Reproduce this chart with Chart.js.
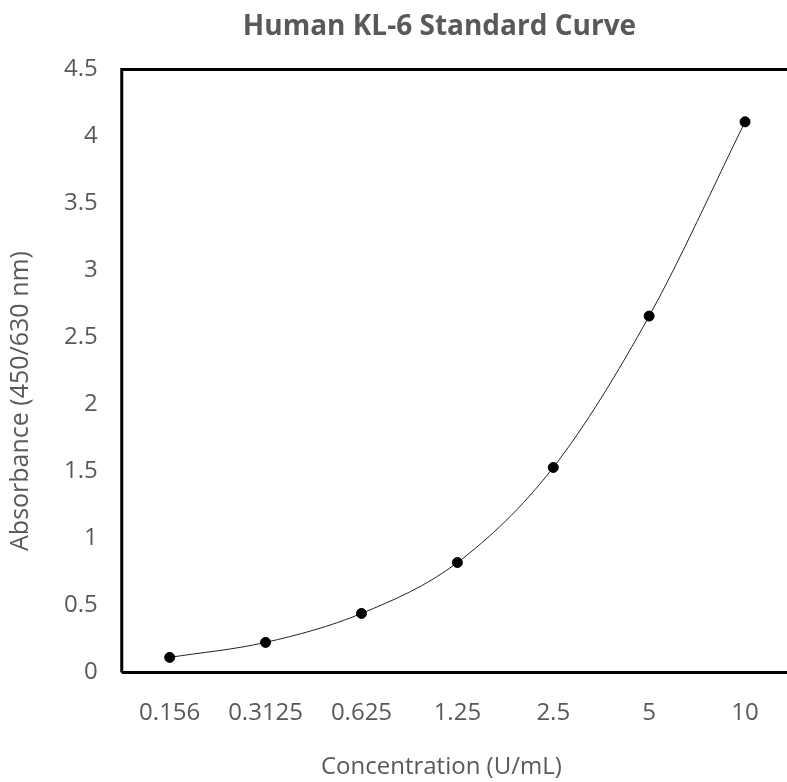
<!DOCTYPE html>
<html>
<head>
<meta charset="utf-8">
<script src="https://cdn.jsdelivr.net/npm/chart.js@4.4.1/dist/chart.umd.min.js"></script>
<style>
  html, body { margin: 0; padding: 0; background: #fff; overflow: hidden; }
  #wrap { position: relative; width: 800px; height: 782px; }
</style>
</head>
<body>
<div id="wrap"><canvas id="c"></canvas></div>
<script>
const categories = ["0.156", "0.3125", "0.625", "1.25", "2.5", "5", "10"];
const absorbance = [0.112, 0.224, 0.44, 0.82, 1.53, 2.66, 4.11];
const yTicks = [0, 0.5, 1, 1.5, 2, 2.5, 3, 3.5, 4, 4.5];

const frame = {
  id: 'frame',
  afterLayout(chart) {
    const t = chart.titleBlock;
    if (t) { t.left += 40; t.right += 40; }
  },
  afterDraw(chart) {
    const { ctx, chartArea: a } = chart;
    ctx.save();
    ctx.strokeStyle = '#000';
    ctx.lineWidth = 3;
    ctx.beginPath();
    ctx.moveTo(a.left, a.bottom);
    ctx.lineTo(a.left, a.top);
    ctx.lineTo(a.right, a.top);
    ctx.lineTo(a.right, a.bottom);
    ctx.lineTo(a.left, a.bottom);
    ctx.stroke();
    ctx.restore();
  }
};

function shiftTitle(scale, dx, dy) {
  if (scale._titleShifted) return;
  scale._titleShifted = true;
  const orig = scale.drawTitle.bind(scale);
  scale.drawTitle = function () {
    const s = { l: this.left, r: this.right, t: this.top, b: this.bottom };
    this.left += dx; this.right += dx; this.top += dy; this.bottom += dy;
    orig();
    this.left = s.l; this.right = s.r; this.top = s.t; this.bottom = s.b;
  };
}

new Chart(document.getElementById('c'), {
  type: 'line',
  data: {
    labels: categories,
    datasets: [{
      data: absorbance,
      borderColor: '#222',
      borderWidth: 1,
      backgroundColor: '#000',
      pointBackgroundColor: '#000',
      pointBorderColor: '#000',
      pointRadius: 5,
      cubicInterpolationMode: 'monotone',
      fill: false
    }]
  },
  options: {
    responsive: true,
    maintainAspectRatio: false,
    animation: false,
    layout: { padding: { top: 10, left: 6, right: 7, bottom: 0 } },
    plugins: {
      legend: { display: false },
      tooltip: { enabled: false },
      title: {
        display: true,
        text: 'Human KL-6 Standard Curve',
        color: '#595959',
        font: { family: 'Open Sans', size: 28, weight: 'bold' },
        padding: { top: 0, bottom: 26 }
      }
    },
    scales: {
      x: {
        type: 'category',
        offset: true,
        grid: { display: false, drawTicks: false },
        border: { display: false },
        afterFit(scale) { shiftTitle(scale, -16, 0); },
        ticks: {
          color: '#595959',
          font: { family: 'Open Sans', size: 24 },
          padding: 26,
          maxRotation: 0
        },
        title: {
          display: true,
          text: 'Concentration (U/mL)',
          color: '#595959',
          font: { family: 'Open Sans', size: 24 },
          padding: { top: 0, bottom: 0 }
        }
      },
      y: {
        min: 0,
        max: 4.5,
        afterBuildTicks(axis) { axis.ticks = yTicks.map(v => ({ value: v })); },
        afterFit(scale) { shiftTitle(scale, 0, 30); },
        grid: { display: false, drawTicks: false },
        border: { display: false },
        ticks: {
          color: '#595959',
          font: { family: 'Open Sans', size: 24 },
          padding: 24,
          callback: v => String(v)
        },
        title: {
          display: true,
          text: 'Absorbance (450/630 nm)',
          color: '#595959',
          font: { family: 'Open Sans', size: 25 },
          padding: { top: 0, bottom: 4 }
        }
      }
    }
  },
  plugins: [frame]
});
</script>
</body>
</html>
